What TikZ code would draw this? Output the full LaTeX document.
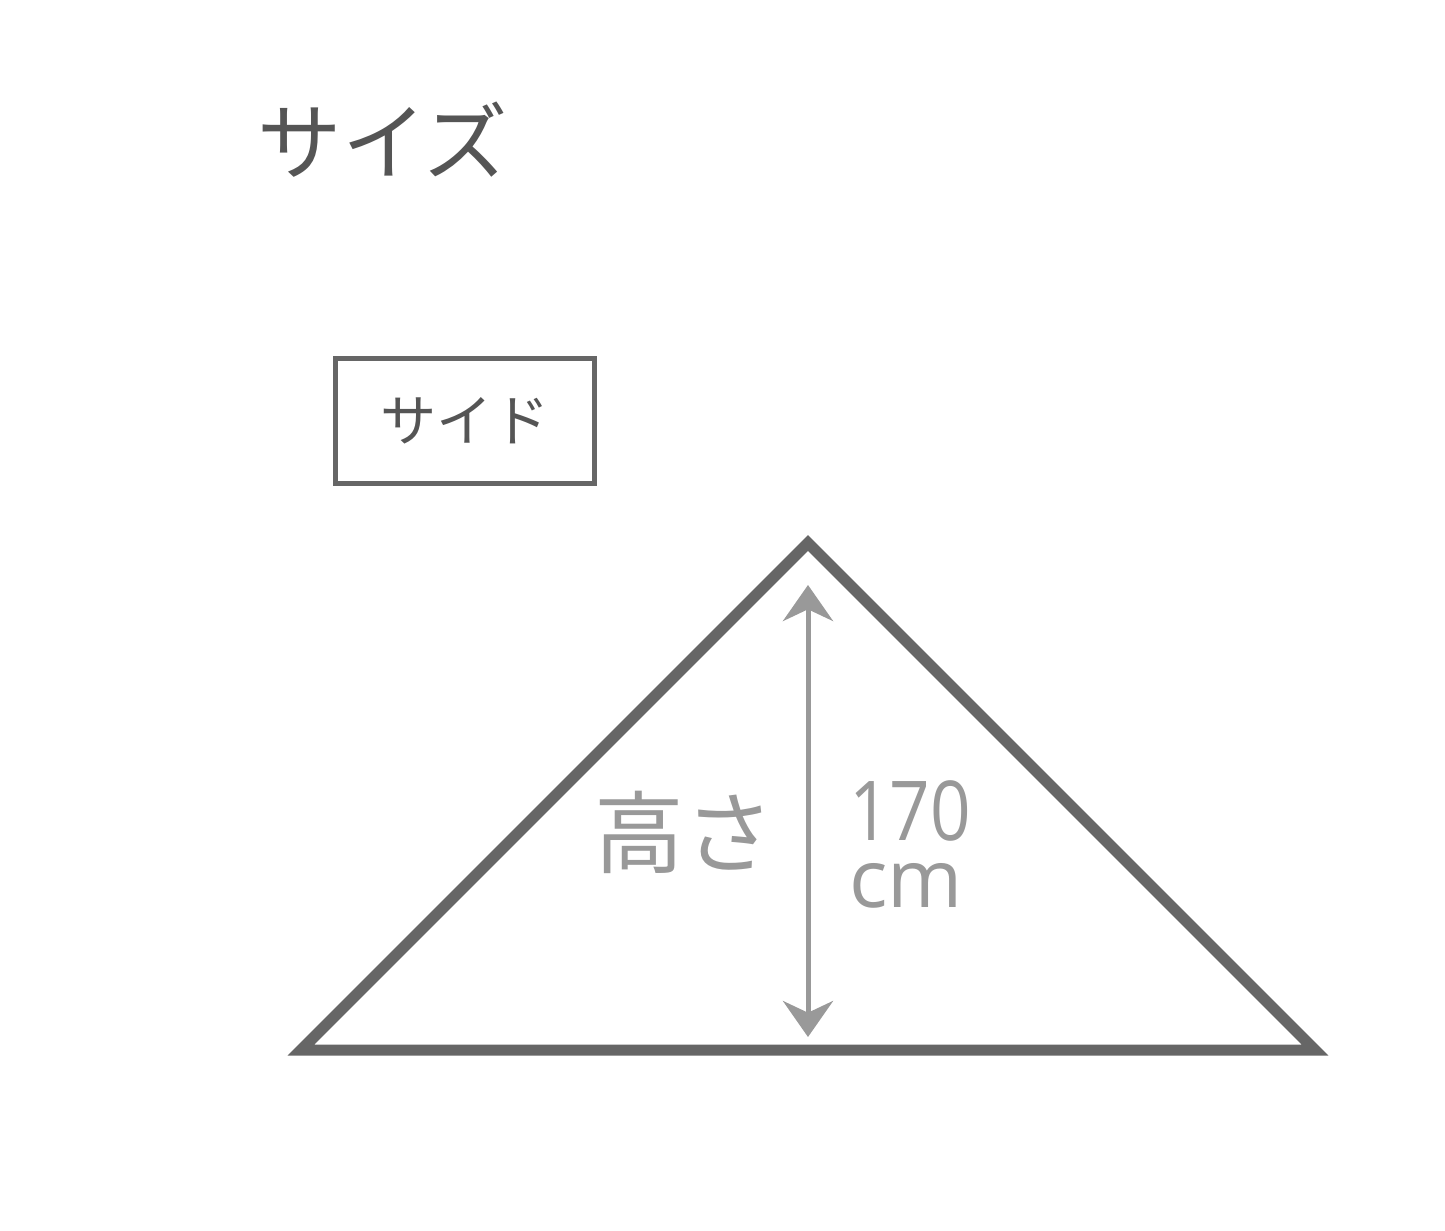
\documentclass[tikz,border=0pt]{standalone}
\usepackage{fontspec}
\usepackage{tikz}
\usetikzlibrary{arrows.meta, positioning, calc}
\newfontfamily\cjk{Noto Sans CJK JP}
\newfontfamily\latinfont{Open Sans}
\newfontfamily\latinnarrow[FakeStretch=0.86]{Open Sans}
\definecolor{darkline}{HTML}{666666}
\definecolor{titlegray}{HTML}{555555}
\definecolor{dimgray}{HTML}{999999}

\begin{document}
\begin{tikzpicture}[x=0.02cm, y=-0.02cm,
  label/.style={inner sep=0pt, font=\cjk},
  dimarrow/.style={dimgray, line width=0.1cm,
    {Stealth[length=0.72cm, width=1cm]}-{Stealth[length=0.72cm, width=1cm]}}]
\useasboundingbox (0,0) rectangle (1445,1231);

% Title
\node[label, text=titlegray, font=\cjk\fontsize{48}{48}\selectfont] (title) at (383,140) {サイズ};

% Side tag
\node[draw=darkline, line width=0.1cm, minimum width=5.18cm, minimum height=2.5cm,
  text=titlegray, font=\cjk\fontsize{32}{32}\selectfont] (sidebox) at (465,421) {サイド};

% Tent outline
\coordinate (apex) at (808,543);
\coordinate (bl) at (301,1050);
\coordinate (br) at (1315,1050);
\draw[darkline, line width=0.22cm, line join=miter] (apex) -- (br) -- (bl) -- cycle;

% Height
\coordinate (top) at (808,585);
\coordinate (bot) at (808,1037);
\draw[dimarrow] (top) -- (bot);
\node[label, text=dimgray, font=\cjk\fontsize{51}{51}\selectfont] (heightlbl) at (684,832) {高さ};
\node[label, text=dimgray, anchor=base west,
  font=\latinnarrow\fontsize{47}{47}\selectfont] (dimnum) at (849,840) {170};
\node[label, text=dimgray, anchor=base west,
  font=\latinfont\fontsize{46}{46}\selectfont] (dimunit) at (849,907) {cm};
\end{tikzpicture}
\end{document}
